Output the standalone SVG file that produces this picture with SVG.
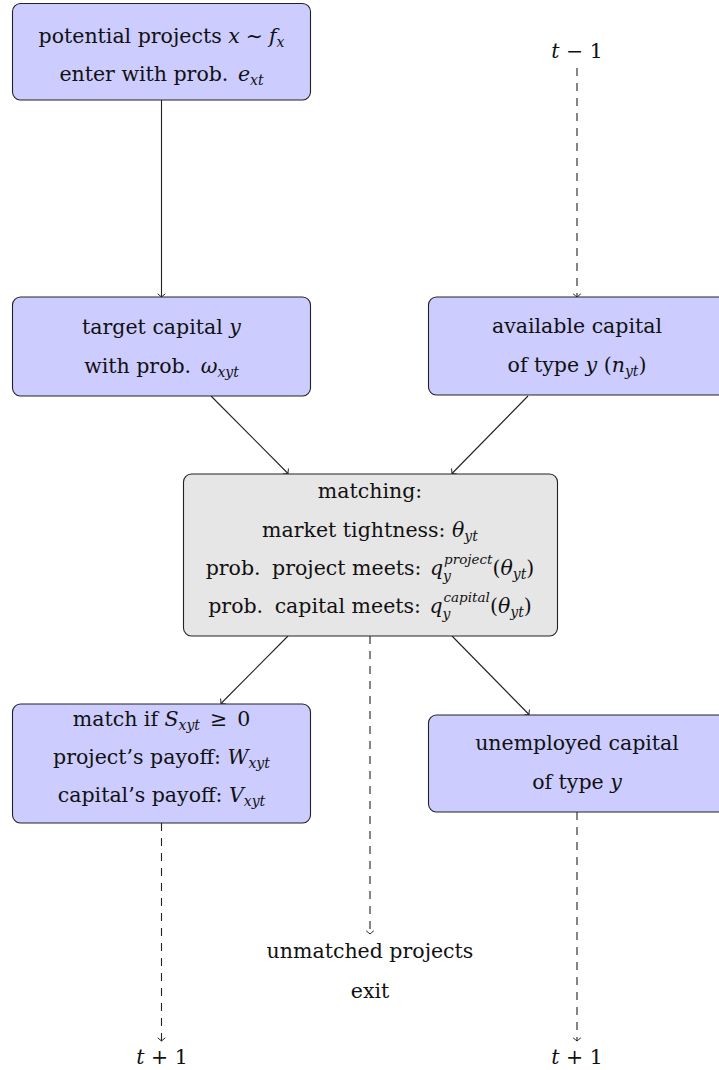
<svg xmlns="http://www.w3.org/2000/svg" width="719" height="1070" viewBox="0 0 719 1070">
<defs>
<style>
.box{fill:#ccccff;stroke:#222;stroke-width:1.1}
.gbox{fill:#e6e6e6;stroke:#222;stroke-width:1.1}
text{font-family:"DejaVu Serif","Liberation Serif",serif;font-size:20.5px;fill:#111;text-anchor:middle}
.m{font-style:italic}
.s{font-size:14px;font-style:italic}
.ss{font-size:13.5px;font-style:italic}
.c{fill:none;stroke:#222;stroke-width:1.1}
.d{stroke-dasharray:8 7}
</style>
<marker id="ah" markerUnits="userSpaceOnUse" orient="auto" markerWidth="12" markerHeight="12" refX="0" refY="0" viewBox="-6 -6 12 12" overflow="visible">
<path d="M-3.2,-3.8 Q-0.9,-1 0,0 Q-0.9,1 -3.2,3.8" fill="none" stroke="#222" stroke-width="1"/>
</marker>
</defs>
<g id="connectors">
<line class="c" x1="161.5" y1="100" x2="161.5" y2="297" marker-end="url(#ah)"/>
<line class="c d" x1="577" y1="68" x2="577" y2="297" marker-end="url(#ah)"/>
<line class="c" x1="211" y1="396" x2="288" y2="473.5" marker-end="url(#ah)"/>
<line class="c" x1="528" y1="396" x2="452" y2="473.5" marker-end="url(#ah)"/>
<line class="c" x1="288" y1="636" x2="221" y2="703.5" marker-end="url(#ah)"/>
<line class="c" x1="452" y1="636" x2="529" y2="714.5" marker-end="url(#ah)"/>
<line class="c d" x1="370" y1="636" x2="370" y2="934" marker-end="url(#ah)"/>
<line class="c d" x1="161.5" y1="823" x2="161.5" y2="1041" marker-end="url(#ah)"/>
<line class="c d" x1="577" y1="812" x2="577" y2="1041" marker-end="url(#ah)"/>
</g>
<g id="n-potential">
<rect class="box" x="12.5" y="3.5" width="298" height="96.5" rx="8"/>
<text x="161.5" y="43">potential projects <tspan class="m">x</tspan><tspan dx="6">∼</tspan><tspan class="m" dx="6">f</tspan><tspan class="s" dy="4">x</tspan></text>
<text x="161.5" y="81">enter with prob. <tspan class="m" dx="3">e</tspan><tspan class="s" dy="4">xt</tspan></text>
</g>
<g id="n-tminus1">
<text x="577" y="58"><tspan class="m">t</tspan> − 1</text>
</g>
<g id="n-target">
<rect class="box" x="12.5" y="297" width="298" height="99" rx="8"/>
<text x="161.5" y="334">target capital <tspan class="m">y</tspan></text>
<text x="161.5" y="373">with prob. <tspan class="m" dx="3">ω</tspan><tspan class="s" dy="4">xyt</tspan></text>
</g>
<g id="n-available">
<rect class="box" x="428.5" y="297" width="298" height="98" rx="8"/>
<text x="577" y="333">available capital</text>
<text x="577" y="372">of type <tspan class="m">y</tspan> (<tspan class="m">n</tspan><tspan class="s" dy="4">yt</tspan><tspan dy="-4">)</tspan></text>
</g>
<g id="n-matching">
<rect class="gbox" x="183.5" y="474" width="374" height="162" rx="8"/>
<text x="370" y="498">matching:</text>
<text x="370" y="537">market tightness: <tspan class="m">θ</tspan><tspan class="s" dy="4">yt</tspan></text>
<text x="370" y="575">prob. <tspan dx="5">project meets: </tspan><tspan class="m" dx="2">q</tspan><tspan class="s" dy="6">y</tspan><tspan class="ss" dx="-7" dy="-17">project</tspan><tspan dy="11">(</tspan><tspan class="m">θ</tspan><tspan class="s" dy="4">yt</tspan><tspan dy="-4">)</tspan></text>
<text x="370" y="613">prob. <tspan dx="5">capital meets: </tspan><tspan class="m" dx="2">q</tspan><tspan class="s" dy="6">y</tspan><tspan class="ss" dx="-7" dy="-17">capital</tspan><tspan dy="11">(</tspan><tspan class="m">θ</tspan><tspan class="s" dy="4">yt</tspan><tspan dy="-4">)</tspan></text>
</g>
<g id="n-match">
<rect class="box" x="12.5" y="704" width="298" height="119" rx="8"/>
<text x="161.5" y="726">match if <tspan class="m">S</tspan><tspan class="s" dy="4">xyt</tspan><tspan dy="-4" dx="10">≥</tspan><tspan dx="10">0</tspan></text>
<text x="161.5" y="764">project’s payoff: <tspan class="m">W</tspan><tspan class="s" dy="4">xyt</tspan></text>
<text x="161.5" y="802">capital’s payoff: <tspan class="m">V</tspan><tspan class="s" dy="4">xyt</tspan></text>
</g>
<g id="n-unemployed">
<rect class="box" x="428.5" y="715" width="298" height="97" rx="8"/>
<text x="577" y="750">unemployed capital</text>
<text x="577" y="789">of type <tspan class="m">y</tspan></text>
</g>
<g id="n-unmatched">
<text x="370" y="958">unmatched projects</text>
<text x="370" y="998">exit</text>
</g>
<g id="n-tplus1-left">
<text x="162" y="1064"><tspan class="m">t</tspan> + 1</text>
</g>
<g id="n-tplus1-right">
<text x="577" y="1064"><tspan class="m">t</tspan> + 1</text>
</g>
</svg>
